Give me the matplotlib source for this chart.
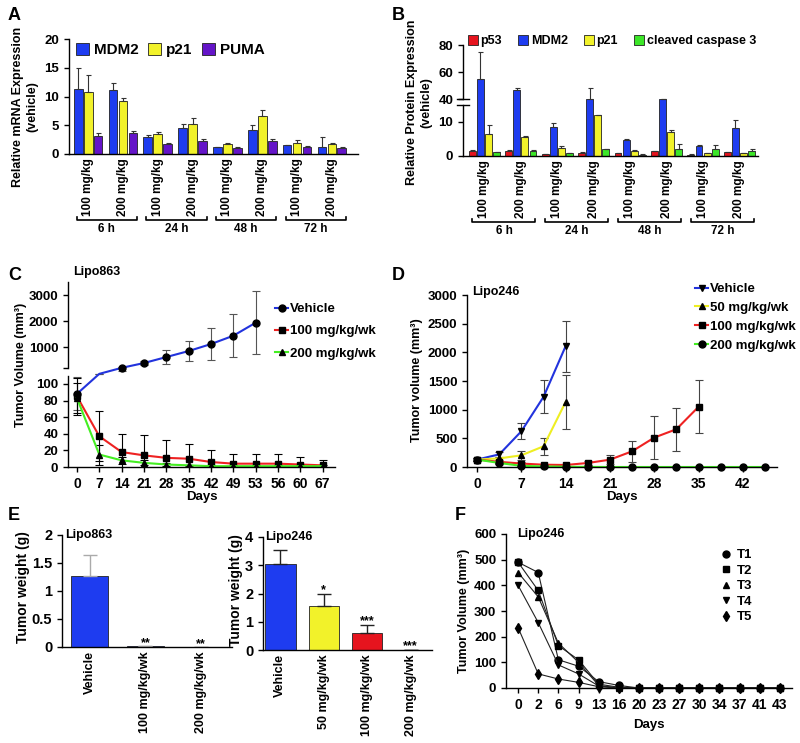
import matplotlib
matplotlib.use('Agg')
import matplotlib.pyplot as plt
import numpy as np
from matplotlib.lines import Line2D
from matplotlib.patches import Patch

plt.rcParams['font.family'] = ['Liberation Sans', 'DejaVu Sans']
plt.rcParams['font.weight'] = 'bold'
plt.rcParams['axes.labelweight'] = 'bold'
plt.rcParams['font.size'] = 9
plt.rcParams['axes.linewidth'] = 1.0
plt.rcParams['xtick.major.width'] = 1.0
plt.rcParams['ytick.major.width'] = 1.0
plt.rcParams['xtick.major.size'] = 3.5
plt.rcParams['ytick.major.size'] = 3.5

BLUE = '#1e3cf0'
YELLOW = '#f2f22a'
PURPLE = '#6414c8'
RED = '#e6141e'
GREEN = '#3ce628'

# ---- panel A data (mRNA) ----
dose_labels = ['100 mg/kg', '200 mg/kg'] * 4
time_labels = ['6 h', '24 h', '48 h', '72 h']
a_mdm2 = [11.3, 11.1, 2.9, 4.5, 1.2, 4.2, 1.5, 1.2]
a_mdm2_err = [3.7, 1.3, 0.4, 0.8, 0.05, 0.8, 0.1, 1.7]
a_p21 = [10.8, 9.3, 3.4, 5.2, 1.8, 6.6, 1.9, 1.7]
a_p21_err = [3.0, 0.4, 0.5, 1.0, 0.2, 1.1, 0.5, 0.15]
a_puma = [3.2, 3.6, 1.7, 2.3, 1.1, 2.3, 1.3, 1.1]
a_puma_err = [0.4, 0.4, 0.15, 0.3, 0.05, 0.3, 0.1, 0.2]

# ---- panel B data (protein) ----
b_p53 = [1.6, 1.6, 0.5, 1.0, 0.8, 1.5, 0.4, 1.1]
b_p53_err = [0.2, 0.2, 0.1, 0.1, 0.1, 0.1, 0.1, 0.1]
b_mdm2 = [55, 47, 8.5, 38, 4.6, 38, 2.9, 8.2]
b_mdm2_err = [20, 1.5, 1.2, 10, 0.5, 0, 0.2, 2.3]
b_p21 = [6.5, 5.7, 2.3, 12.0, 1.6, 7.1, 0.9, 0.9]
b_p21_err = [2.7, 0.2, 0.7, 0.2, 0.3, 0.5, 0.1, 0.1]
b_casp = [1.2, 1.6, 0.9, 2.1, 0.4, 2.2, 2.2, 1.5]
b_casp_err = [0.1, 0.1, 0.1, 0.1, 0.1, 1.2, 1.0, 0.7]

# ---- panel C data (Lipo863) ----
c_days = ['0', '7', '14', '21', '28', '35', '42', '49', '53', '56', '60', '67']
c_vehicle = [88, 130, 200, 385, 615, 846, 1115, 1435, 1935]
c_vehicle_err = [20, 0, 40, 90, 280, 380, 600, 820, 1200]
c_100 = [85, 37, 18, 14, 11, 10, 6, 4, 4, 4, 3, 2]
c_100_err = [22, 30, 22, 25, 22, 18, 15, 12, 12, 12, 9, 7]
c_200 = [83, 15, 8, 5, 3, 2, 1, 1, 1, 1, 1, 1]
c_200_err = [18, 12, 4, 3, 2, 1, 1, 1, 1, 1, 1, 1]

# ---- panel D data (Lipo246) ----
d_days = [0, 3.5, 7, 10.5, 14, 17.5, 21, 24.5, 28, 31.5, 35, 38.5, 42, 45.5]
d_vehicle = [130, 220, 624, 1224, 2110]
d_vehicle_err = [30, 50, 140, 285, 445]
d_50 = [130, 150, 204, 361, 1137]
d_50_err = [20, 30, 75, 145, 470]
d_100 = [130, 90, 60, 40, 35, 70, 128, 274, 513, 659, 1050]
d_100_err = [20, 20, 30, 20, 15, 30, 75, 180, 375, 375, 460]
d_200 = [130, 70, 20, 10, 5, 2, 0, 0, 0, 0, 0, 0, 0, 0]
d_200_err = [20, 15, 10, 5, 3, 1, 0, 0, 0, 0, 0, 0, 0, 0]

# ---- panel E data (tumor weight) ----
e1_groups = ['Vehicle', '100 mg/kg/wk', '200 mg/kg/wk']
e1_vals = [1.27, 0.01, 0.0]
e1_err = [0.37, 0.0, 0.0]
e1_sig = ['', '**', '**']
e2_groups = ['Vehicle', '50 mg/kg/wk', '100 mg/kg/wk', '200 mg/kg/wk']
e2_vals = [3.05, 1.57, 0.6, 0.0]
e2_err = [0.48, 0.4, 0.27, 0.0]
e2_sig = ['', '*', '***', '***']

# ---- panel F data ----
f_days = ['0', '2', '6', '9', '13', '16', '20', '23', '27', '30', '34', '37', '41', '43']
f_t1 = [490, 450, 110, 85, 25, 10, 0, 0, 0, 0, 0, 0, 0, 0]
f_t2 = [490, 380, 165, 110, 15, 3, 0, 0, 0, 0, 0, 0, 0, 0]
f_t3 = [450, 355, 175, 100, 10, 0, 0, 0, 0, 0, 0, 0, 0, 0]
f_t4 = [400, 255, 90, 55, 8, 0, 0, 0, 0, 0, 0, 0, 0, 0]
f_t5 = [235, 55, 35, 22, 5, 0, 0, 0, 0, 0, 0, 0, 0, 0]

W, H = 800, 743
fig = plt.figure(figsize=(8, 7.43), dpi=100)


def px_axes(x0, y0, x1, y1):
    ax = fig.add_axes([x0 / W, 1 - y1 / H, (x1 - x0) / W, (y1 - y0) / H])
    ax.spines['top'].set_visible(False)
    ax.spines['right'].set_visible(False)
    return ax


def broken(xp, fp):
    fwd = lambda v: np.interp(v, xp, fp)
    inv = lambda v: np.interp(v, fp, xp)
    return fwd, inv


def brackets(ax, y, ty):
    tr = ax.get_xaxis_transform()
    for i, t in enumerate(time_labels):
        x0, x1 = 2 * i - 0.33, 2 * i + 1.4
        ax.plot([x0, x0, x1, x1], [y + 0.03, y, y, y + 0.03], color='k', lw=1.2,
                transform=tr, clip_on=False)
        ax.text((x0 + x1) / 2, ty, t, transform=tr, ha='center', va='center', fontsize=8.5)


def letter(x, y, s):
    fig.text(x / W, 1 - y / H, s, fontsize=13, fontweight='bold', ha='left', va='center')


ekw = dict(ecolor='#333333', elinewidth=0.8, capsize=1.8, capthick=0.8)

# ================= A =================
ax = px_axes(69, 39, 358, 154)
x = np.arange(len(a_mdm2))
bw = 0.25
for off, vals, err, col in [(-0.286, a_mdm2, a_mdm2_err, BLUE), (0, a_p21, a_p21_err, YELLOW),
                            (0.286, a_puma, a_puma_err, PURPLE)]:
    ax.bar(x + off, vals, bw, color=col, edgecolor='#222222', linewidth=0.6,
           yerr=[np.zeros(len(err)), err], error_kw=ekw)
ax.set_xlim(-0.55, 7.75)
ax.set_ylim(0, 20)
ax.set_yticks([0, 5, 10, 15, 20])
ax.tick_params(axis='y', labelsize=9.5)
ax.set_xticks(x)
ax.set_xticklabels(dose_labels, rotation=90, fontsize=8.5)
ax.tick_params(axis='x', length=0, pad=3)
ax.set_ylabel('Relative mRNA Expression\n(vehicle)', fontsize=9)
ax.yaxis.set_label_coords(-0.107, 0.41)
brackets(ax, -0.574, -0.655)
ax.legend([Patch(fc=BLUE, ec='#222222', lw=0.6), Patch(fc=YELLOW, ec='#222222', lw=0.6),
           Patch(fc=PURPLE, ec='#222222', lw=0.6)], ['MDM2', 'p21', 'PUMA'],
          ncol=3, loc='upper left', bbox_to_anchor=(76 / W, 1 - 43 / H),
          bbox_transform=fig.transFigure, frameon=False, fontsize=11,
          handlelength=0.85, handleheight=0.85, handletextpad=0.3, columnspacing=0.65,
          borderpad=0, borderaxespad=0)
letter(8, 15, 'A')

# ================= B =================
ax = px_axes(463, 45, 758, 156)
fwd, inv = broken([-100, 0, 15, 40, 200], [-100, 0, 15, 16.76, 16.76 + 160 * 0.397])
ax.set_yscale('function', functions=(fwd, inv))
x = np.arange(len(b_p53))
bw = 0.19
for off, vals, err, col in [(-0.333, b_p53, b_p53_err, RED), (-0.111, b_mdm2, b_mdm2_err, BLUE),
                            (0.111, b_p21, b_p21_err, YELLOW), (0.333, b_casp, b_casp_err, GREEN)]:
    ax.bar(x + off, vals, bw, color=col, edgecolor='#222222', linewidth=0.6,
           yerr=[np.zeros(len(err)), err], error_kw=ekw)
ax.set_xlim(-0.59, 7.51)
ax.set_ylim(0, 80)
ax.set_yticks([0, 10, 40, 60, 80])
ax.tick_params(axis='y', labelsize=9.5)
ax.spines['left'].set_visible(False)
ytr = ax.get_yaxis_transform()
ax.plot([0, 0], [0, 15], color='k', lw=1.0, transform=ytr, clip_on=False)
ax.plot([0, 0], [40, 80], color='k', lw=1.0, transform=ytr, clip_on=False)
for yb in (15, 40):
    ax.plot([-0.022, 0.022], [yb, yb], color='k', lw=1.0, transform=ytr, clip_on=False)
ax.set_xticks(x)
ax.set_xticklabels(dose_labels, rotation=90, fontsize=8.5)
ax.tick_params(axis='x', length=0, pad=3)
ax.set_ylabel('Relative Protein Expression\n(vehicle)', fontsize=9)
ax.yaxis.set_label_coords(-0.105, 0.48)
brackets(ax, -0.595, -0.68)
ax.legend([Patch(fc=c, ec='#222222', lw=0.6) for c in (RED, BLUE, YELLOW, GREEN)],
          ['p53', 'MDM2', 'p21', 'cleaved caspase 3'],
          ncol=4, loc='upper left', bbox_to_anchor=(468 / W, 1 - 35 / H),
          bbox_transform=fig.transFigure, frameon=False, fontsize=9,
          handlelength=0.8, handleheight=0.8, handletextpad=0.2, columnspacing=1.3,
          borderpad=0, borderaxespad=0)
letter(392, 15, 'B')

# ================= C =================
ax = px_axes(68, 282, 335, 467)
fwd, inv = broken([-1000, 0, 110, 200, 100000], [-1000, 0, 110, 119.3, 119.3 + 99800 * 0.0313])
ax.set_yscale('function', functions=(fwd, inv))
xi = np.arange(len(c_days))
xv = xi[:len(c_vehicle)]
ax.errorbar(xv, c_vehicle, yerr=c_vehicle_err, color='#2233dd', lw=1.5, marker='o', ms=5,
            mfc='k', mec='k', markevery=[i for i in range(len(xv)) if i != 1],
            ecolor='#555555', elinewidth=0.8, capsize=3, capthick=0.8, label='Vehicle')
ax.errorbar(xi, c_100, yerr=c_100_err, color='#ee2222', lw=1.5, marker='s', ms=5,
            mfc='k', mec='k', ecolor='k', elinewidth=0.8, capsize=3, capthick=0.8,
            label='100 mg/kg/wk')
ax.errorbar(xi, c_200, yerr=c_200_err, color='#44ee22', lw=1.5, marker='^', ms=4.5,
            mfc='k', mec='k', ecolor='k', elinewidth=0.8, capsize=3, capthick=0.8,
            label='200 mg/kg/wk')
ax.set_xlim(-0.4, 11.55)
ax.set_ylim(0, 3500)
ax.set_yticks([0, 20, 40, 60, 80, 100, 200, 1000, 2000, 3000])
ax.set_yticklabels(['0', '20', '40', '60', '80', '100', '', '1000', '2000', '3000'])
ax.tick_params(axis='y', labelsize=9.5)
ax.set_xticks(xi)
ax.set_xticklabels(c_days, fontsize=10)
ax.spines['left'].set_visible(False)
ytr = ax.get_yaxis_transform()
ax.plot([0, 0], [0, 110], color='k', lw=1.0, transform=ytr, clip_on=False)
ax.plot([0, 0], [200, 3500], color='k', lw=1.0, transform=ytr, clip_on=False)
ax.set_xlabel('Days', fontsize=9.5, labelpad=0)
ax.set_ylabel('Tumor Volume (mm³)', fontsize=9)
ax.yaxis.set_label_coords(-0.154, 0.55)
ax.text(0.02, 1.054, 'Lipo863', transform=ax.transAxes, fontsize=9, va='center')
ax.legend([Line2D([], [], color=c, lw=1.5, marker=m, mfc='k', mec='k', ms=5)
           for c, m in (('#2233dd', 'o'), ('#ee2222', 's'), ('#44ee22', '^'))],
          ['Vehicle', '100 mg/kg/wk', '200 mg/kg/wk'],
          loc='upper left', bbox_to_anchor=(275 / W, 1 - 303 / H),
          bbox_transform=fig.transFigure, frameon=False, fontsize=9.5,
          handlelength=1.0, handletextpad=0.15, labelspacing=0.75,
          borderpad=0, borderaxespad=0)
letter(8, 275, 'C')

# ================= D =================
ax = px_axes(467, 295, 777, 467)
for days, vals, err, col, m, lab in [
        (d_days[:len(d_vehicle)], d_vehicle, d_vehicle_err, '#2233dd', 'v', 'Vehicle'),
        (d_days[:len(d_50)], d_50, d_50_err, '#eeee22', '^', '50 mg/kg/wk'),
        (d_days[:len(d_100)], d_100, d_100_err, '#ee2222', 's', '100 mg/kg/wk'),
        (d_days, d_200, d_200_err, '#44ee22', 'o', '200 mg/kg/wk')]:
    ax.errorbar(days, vals, yerr=err, color=col, lw=1.5, marker=m, ms=5, mfc='k', mec='k',
                ecolor='#444444', elinewidth=0.8, capsize=3, capthick=0.8, clip_on=False,
                label=lab)
ax.set_xlim(-1.6, 47.4)
ax.set_ylim(0, 3000)
ax.set_xticks([0, 7, 14, 21, 28, 35, 42])
ax.set_yticks([0, 500, 1000, 1500, 2000, 2500, 3000])
ax.tick_params(axis='y', labelsize=9.5)
ax.tick_params(axis='x', labelsize=10)
ax.set_xlabel('Days', fontsize=9.5, labelpad=0)
ax.set_ylabel('Tumor volume (mm³)', fontsize=9)
ax.yaxis.set_label_coords(-0.142, 0.506)
ax.text(0.016, 1.02, 'Lipo246', transform=ax.transAxes, fontsize=9, va='center')
ax.legend([Line2D([], [], color=c, lw=1.5, marker=m, mfc='k', mec='k', ms=5)
           for c, m in (('#2233dd', 'v'), ('#eeee22', '^'), ('#ee2222', 's'), ('#44ee22', 'o'))],
          ['Vehicle', '50 mg/kg/wk', '100 mg/kg/wk', '200 mg/kg/wk'],
          loc='upper left', bbox_to_anchor=(695 / W, 1 - 283 / H),
          bbox_transform=fig.transFigure, frameon=False, fontsize=9.5,
          handlelength=1.0, handletextpad=0.15, labelspacing=0.5,
          borderpad=0, borderaxespad=0)
letter(392, 275, 'D')

# ================= E =================
ax = px_axes(62, 535, 232, 647)
xe = np.arange(len(e1_groups))
ax.bar(xe, e1_vals, 0.67, color=BLUE, edgecolor='#222222', linewidth=0.6,
       yerr=[np.zeros(len(e1_err)), e1_err],
       error_kw=dict(ecolor='#aaaaaa', elinewidth=1.0, capsize=5, capthick=1.0))
for i, s in enumerate(e1_sig):
    if s:
        ax.annotate(s, (i, e1_vals[i] + e1_err[i]), xytext=(0, 2), textcoords='offset points',
                    ha='center', va='center', fontsize=9)
ax.set_xlim(-0.5, 2.56)
ax.set_ylim(0, 2)
ax.set_yticks([0, 0.5, 1, 1.5, 2])
ax.set_yticklabels(['0', '0.5', '1', '1.5', '2'])
ax.tick_params(axis='y', labelsize=10.5)
ax.set_xticks(xe)
ax.set_xticklabels(e1_groups, rotation=90, fontsize=9)
ax.tick_params(axis='x', length=0, pad=3)
ax.set_ylabel('Tumor weight (g)', fontsize=10)
ax.yaxis.set_label_coords(-0.19, 0.535)
ax.text(0.02, 1.0, 'Lipo863', transform=ax.transAxes, fontsize=9, va='center')

ax = px_axes(263, 537, 432, 650)
xe = np.arange(len(e2_groups))
ax.bar(xe, e2_vals, 0.7, color=[BLUE, YELLOW, RED, RED], edgecolor='#222222', linewidth=0.6,
       yerr=[np.zeros(len(e2_err)), e2_err],
       error_kw=dict(ecolor='#222222', elinewidth=1.0, capsize=5, capthick=1.0))
for i, s in enumerate(e2_sig):
    if s:
        ax.annotate(s, (i, e2_vals[i] + e2_err[i]), xytext=(0, 3), textcoords='offset points',
                    ha='center', va='center', fontsize=9)
ax.set_xlim(-0.4, 3.49)
ax.set_ylim(0, 4)
ax.set_yticks([0, 1, 2, 3, 4])
ax.tick_params(axis='y', labelsize=10.5)
ax.set_xticks(xe)
ax.set_xticklabels(e2_groups, rotation=90, fontsize=9)
ax.tick_params(axis='x', length=0, pad=3)
ax.set_ylabel('Tumor weight (g)', fontsize=10)
ax.yaxis.set_label_coords(-0.118, 0.53)
ax.text(0.01, 1.0, 'Lipo246', transform=ax.transAxes, fontsize=9, va='center')
letter(8, 515, 'E')

# ================= F =================
ax = px_axes(506, 534, 792, 688)
xf = np.arange(len(f_days))
for vals, m, lab in [(f_t1, 'o', 'T1'), (f_t2, 's', 'T2'), (f_t3, '^', 'T3'),
                     (f_t4, 'v', 'T4'), (f_t5, 'd', 'T5')]:
    ax.plot(xf, vals, color='#222222', lw=0.8, marker=m, ms=5, mfc='k', mec='k',
            clip_on=False, label=lab)
ax.set_xlim(-0.6, 13.6)
ax.set_ylim(0, 600)
ax.set_yticks([0, 100, 200, 300, 400, 500, 600])
ax.tick_params(axis='y', labelsize=9.5)
ax.set_xticks(xf)
ax.set_xticklabels(f_days, fontsize=10)
ax.set_xlabel('Days', fontsize=9.5, labelpad=5)
ax.set_ylabel('Tumor Volume (mm³)', fontsize=9, labelpad=3)
ax.text(0.04, 1.0, 'Lipo246', transform=ax.transAxes, fontsize=9, va='center')
ax.legend([Line2D([], [], ls='none', marker=m, color='k', ms=5) for m in 'os^vd'],
          ['T1', 'T2', 'T3', 'T4', 'T5'],
          loc='upper left', bbox_to_anchor=(722 / W, 1 - 549 / H),
          bbox_transform=fig.transFigure, frameon=False, fontsize=9.5,
          handlelength=0.6, handletextpad=0.5, labelspacing=0.25,
          borderpad=0, borderaxespad=0)
letter(455, 515, 'F')

fig.savefig('out.png', dpi=100)
